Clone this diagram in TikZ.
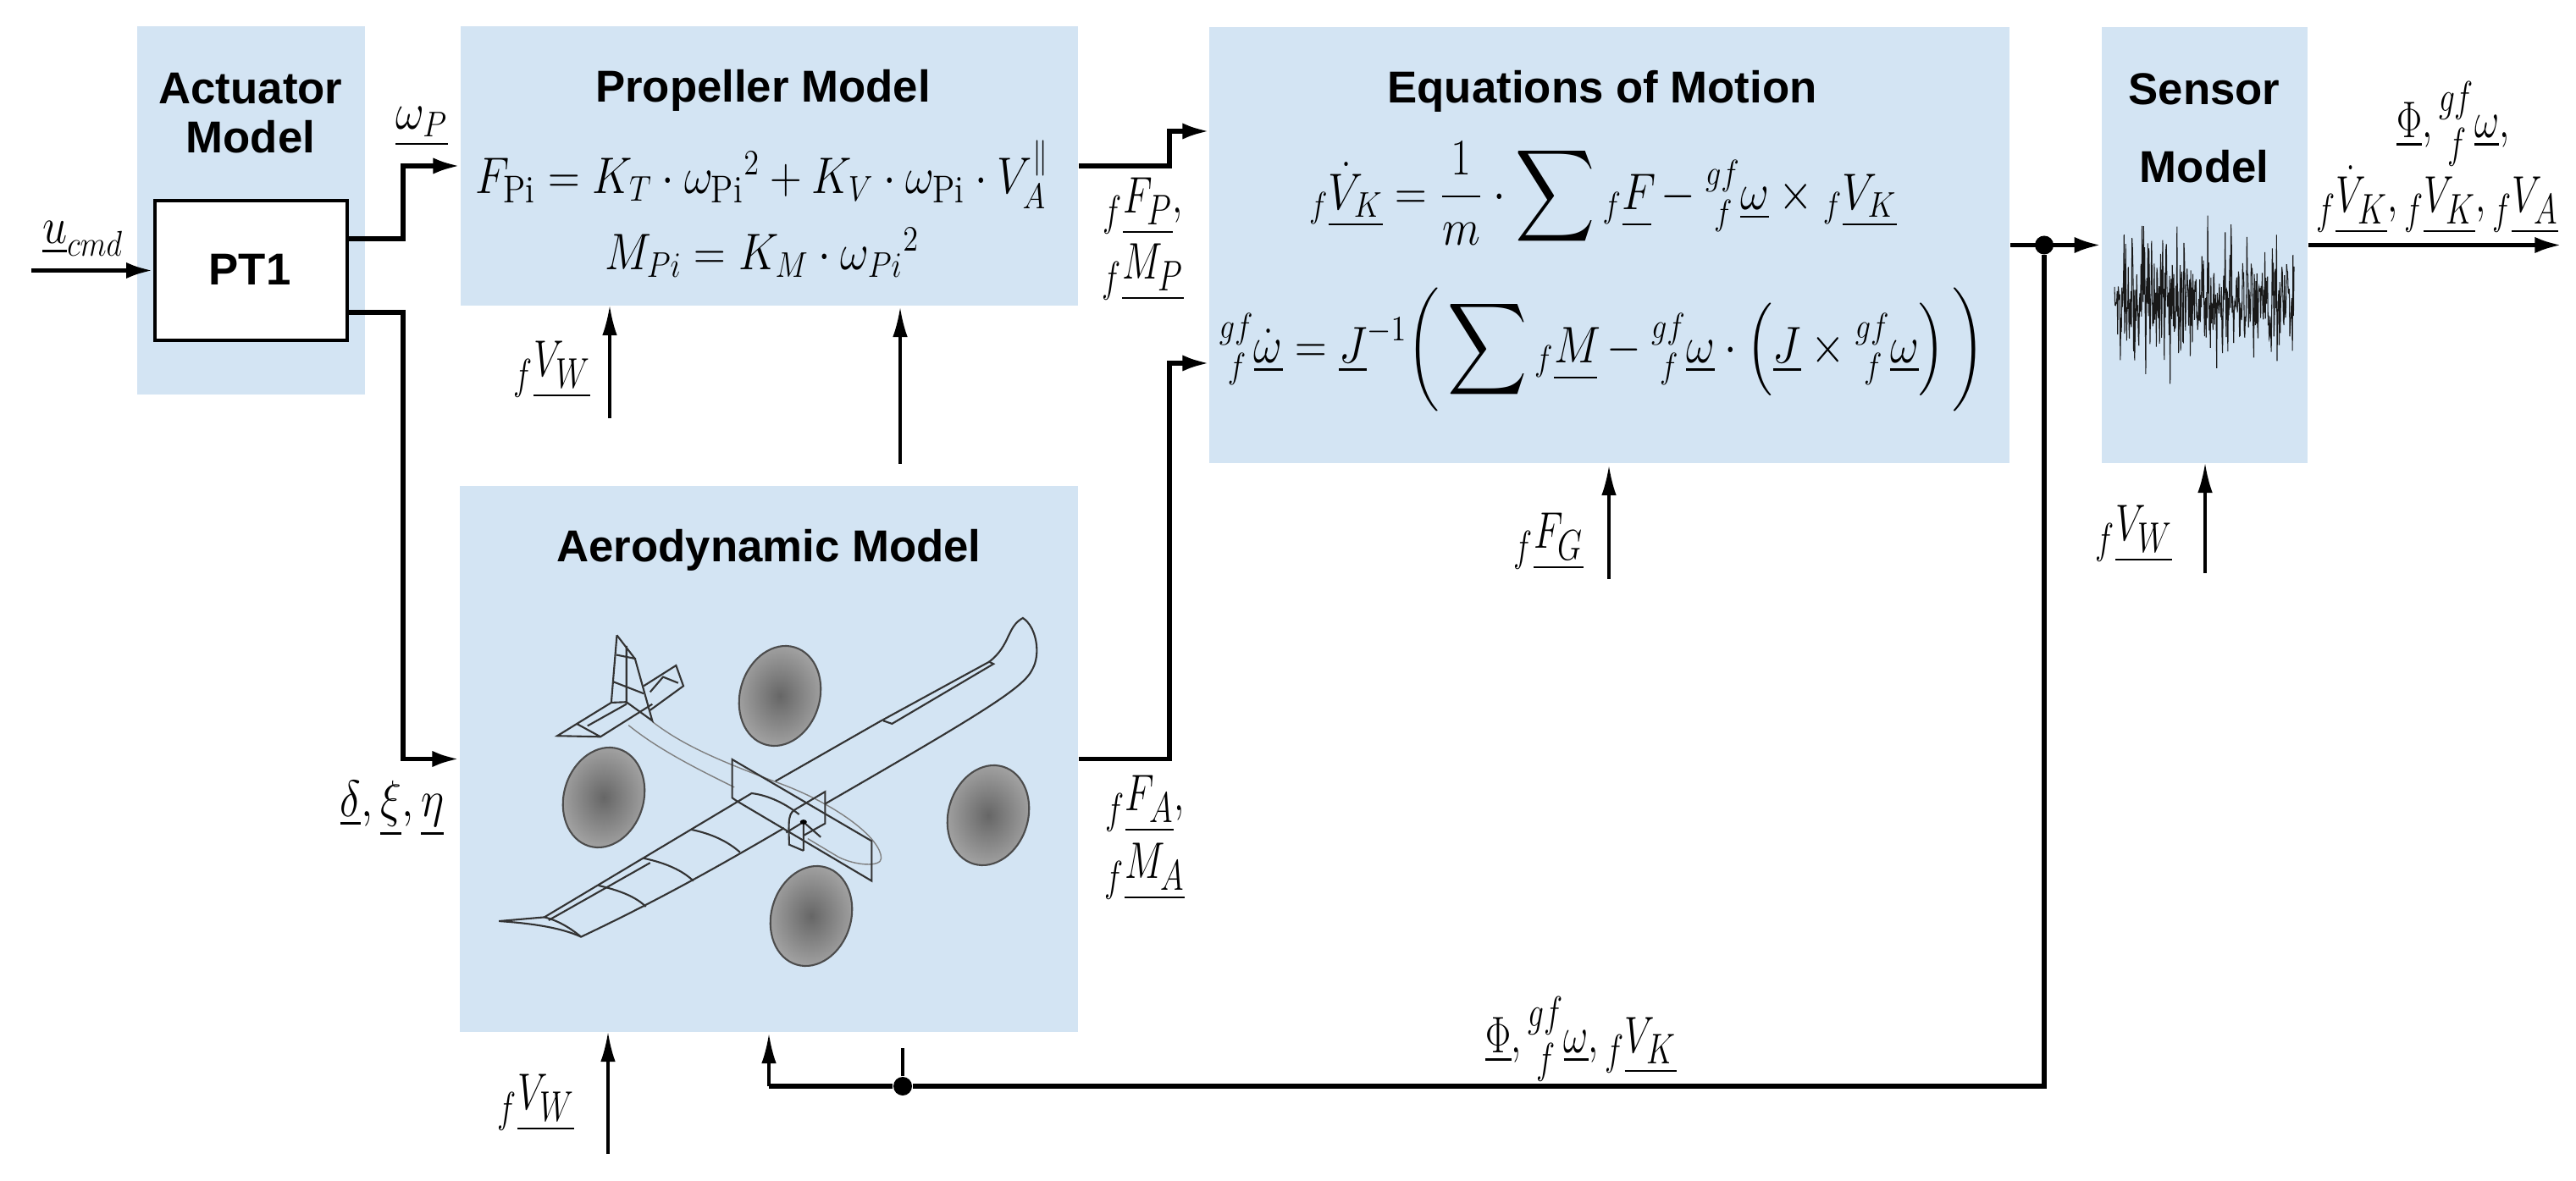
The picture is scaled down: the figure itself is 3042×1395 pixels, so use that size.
\documentclass[tikz,border=0pt]{standalone}
\usepackage{fontspec}
\setsansfont{Liberation Sans}
\usepackage{amsmath}
\usetikzlibrary{arrows.meta}
\DeclareMathSizes{16.5}{16.5}{13}{10}
\DeclareMathSizes{18}{18}{13.5}{10}
\definecolor{blockblue}{HTML}{D3E4F3}
\newcommand{\vecsym}[2]{{}_{f}\underline{#1_{#2}}}
\newcommand{\gfom}{{}^{gf}_{\;f}\underline{\omega}}
\newcommand{\bigsum}{\mathop{\vcenter{\hbox{\scalebox{1.25}{$\displaystyle\sum$}}}}}
\begin{document}
\begin{tikzpicture}[x=0.01cm,y=-0.01cm]
	\tikzstyle{block} = [rectangle, fill=blockblue, inner sep=0pt];
	\tikzstyle{pt} = [rectangle, draw, fill=white, line width=1.3pt, inner sep=0pt, minimum width=2.27cm, minimum height=1.65cm];
	\tikzstyle{title} = [font=\sffamily\bfseries\fontsize{15}{18}\selectfont, align=center, inner sep=0pt];
	\tikzstyle{eq} = [font=\fontsize{16.5}{20}\selectfont, inner sep=0pt, xscale=0.86, transform shape];
	\tikzstyle{lab} = [font=\fontsize{18}{22}\selectfont, inner sep=0pt, xscale=0.74, transform shape];
	\tikzstyle{sigthick} = [line width=1.5pt, -{Latex[length=9pt,width=5.5pt]}];
	\tikzstyle{sigthin} = [line width=0.9pt, -{Latex[length=10pt,width=5pt]}];
	\tikzstyle{frame} = [line width=0.6pt, black!80];
	\tikzstyle{fuse} = [line width=0.4pt, black!50];
	\tikzstyle{disc} = [draw=black!70, line width=0.6pt, inner color=black!60, outer color=black!35];
	
	\useasboundingbox (0,0) rectangle (3042,1395);
	
	\node[block, minimum width=2.69cm, minimum height=4.35cm] (Act) at (296.5,248.5) {};
	\node[block, minimum width=7.29cm, minimum height=3.30cm] (Prop) at (908.5,196) {};
	\node[block, minimum width=7.30cm, minimum height=6.45cm] (Aero) at (908,896.5) {};
	\node[block, minimum width=9.45cm, minimum height=5.15cm] (Eom) at (1900.5,289.5) {};
	\node[block, minimum width=2.43cm, minimum height=5.15cm] (Sens) at (2603.5,289.5) {};
	\node[pt] (Pt) at (296.5,319.5) {};
	
	\node[title] (ActT) at (296,105) {Actuator};
	\node[title] (ActM) at (296,162) {Model};
	\node[title] (PtT) at (295,318) {PT1};
	\node[title] (PropT) at (901,107) {Propeller Model};
	\node[title] (AeroT) at (908,650) {Aerodynamic Model};
	\node[title] (EomT) at (1892,108) {Equations of Motion};
	\node[title] (SensT) at (2603,105) {Sensor};
	\node[title] (SensM) at (2603,197) {Model};
	
	\node[eq] (EqFp) at (900,206) {$F_{\mathrm{Pi}} = K_T \cdot {\omega_{\mathrm{Pi}}}^{2} + K_V \cdot \omega_{\mathrm{Pi}} \cdot V_A^{\parallel}$};
	\node[eq] (EqMp) at (900,298) {$M_{Pi} = K_M \cdot {\omega_{Pi}}^{2}$};
	\node[eq] (EqV) at (1893,230) {$\displaystyle \vecsym{\dot V}{K} = \frac{1}{m} \cdot \bigsum \vecsym{F}{} - \gfom \times \vecsym{V}{K}$};
	\node[eq] (EqW) at (1892,413) {$\displaystyle {}^{gf}_{\;f}\underline{\dot\omega} = \underline{J}^{-1} \bigg( \bigsum \vecsym{M}{} - \gfom \cdot \left( \underline{J} \times \gfom \right) \bigg)$};
	
	\node[eq] (LabU) at (98,282) {$\underline{u}_{cmd}$};
	\node[eq] (LabW) at (498,150) {$\underline{\omega_P}$};
	\node[lab] (LabFP) at (1350,244) {$\vecsym{F}{P},$};
	\node[lab] (LabMP) at (1350,322) {$\vecsym{M}{P}$};
	\node[lab] (LabVa) at (652,437) {$\vecsym{V}{W}$};
	\node[eq] (LabD) at (463,955) {$\underline{\delta}, \underline{\xi}, \underline{\eta}$};
	\node[lab] (LabFA) at (1352,950) {$\vecsym{F}{A},$};
	\node[lab] (LabMA) at (1352,1030) {$\vecsym{M}{A}$};
	\node[lab] (LabVb) at (633,1303) {$\vecsym{V}{W}$};
	\node[lab] (LabFb) at (1867,1227) {$\underline{\Phi}, \gfom, \vecsym{V}{K}$};
	\node[lab] (LabG) at (1829,640) {$\vecsym{F}{G}$};
	\node[lab] (LabVc) at (2520,631) {$\vecsym{V}{W}$};
	\node[lab] (LabOa) at (2897,146) {$\underline{\Phi}, \gfom,$};
	\node[lab] (LabOb) at (2878,236) {$\vecsym{\dot V}{K}, \vecsym{V}{K}, \vecsym{V}{A}$};
	
	\coordinate (UIn) at (37,319.5);
	\coordinate (PtA) at (476,282);
	\coordinate (PtB) at (476,369);
	\coordinate (PropBend) at (1381,155);
	\coordinate (EomInA) at (1428,155);
	\coordinate (AeroBend) at (1381,429);
	\coordinate (EomInB) at (1428,429);
	\coordinate (VaIn) at (720,494);
	\coordinate (VaOut) at (720,361);
	\coordinate (AeroUp) at (1063,548);
	\coordinate (AeroTo) at (1063,363);
	\coordinate (VbIn) at (718,1363);
	\coordinate (VbOut) at (718,1219);
	\coordinate (FbOut) at (908,1221);
	\coordinate (FbCorner) at (908,1283);
	\coordinate (FbStub) at (1066,1238);
	\coordinate (GIn) at (1900,684);
	\coordinate (GOut) at (1900,550);
	\coordinate (VcIn) at (2604,677);
	\coordinate (VcOut) at (2604,547);
	\coordinate (SensOut) at (3025,289.5);
	\node[circle, fill, inner sep=0pt, minimum size=0.22cm] (DotA) at (2414,289.5) {};
	\node[circle, fill, inner sep=0pt, minimum size=0.22cm] (DotB) at (1066,1283) {};
	
	\draw[sigthick] (UIn) -- (Pt.west);
	\draw[sigthick] (Pt.east |- PtA) -- (PtA) |- (Prop.west);
	\draw[sigthick] (Pt.east |- PtB) -- (PtB) |- (Aero.west);
	\draw[sigthick] (Prop.east) -| (PropBend) -- (EomInA);
	\draw[sigthick] (Aero.east) -| (AeroBend) -- (EomInB);
	\draw[sigthin] (VaIn) -- (VaOut);
	\draw[sigthin] (AeroUp) -- (AeroTo);
	\draw[sigthin] (VbIn) -- (VbOut);
	\draw[sigthin] (GIn) -- (GOut);
	\draw[sigthin] (VcIn) -- (VcOut);
	\draw[sigthick] (Eom.east) -- (Sens.west);
	\draw[sigthick] (Sens.east) -- (SensOut);
	\draw[line width=1.5pt] (DotA) |- (DotB);
	\draw[line width=1.5pt] (DotB) -- (FbCorner);
	\draw[sigthin] (FbCorner) -- (FbOut);
	\draw[line width=0.9pt] (DotB) -- (FbStub);
	
	\pgfmathsetseed{7}
	\draw[line width=0.3pt, black!90] plot[samples=340, domain=2497:2709] (\x,{353+30*rand+95*rand*rand});
	
	\draw[disc] (921,822) ellipse [x radius=47, y radius=60, rotate=-17];
	\draw[disc] (713,942) ellipse [x radius=47, y radius=60, rotate=-17];
	\draw[disc] (1167,963) ellipse [x radius=47, y radius=60, rotate=-17];
	\draw[disc] (958,1082) ellipse [x radius=47, y radius=60, rotate=-17];
	
	\begin{scope}[shift={(500,680)}, xscale=0.51, yscale=0.357]
		\draw[fuse] (530,483) .. controls (600,560) and (680,610) .. (830,690) .. controls (960,760) and (1060,870) .. (1060,935) .. controls (1060,965) and (1000,960) .. (960,930) -- (890,870);
		\draw[fuse] (475,495) .. controls (540,570) and (620,630) .. (720,700);
		\draw[frame] (448,197) -- (435,420) -- (310,530) -- (410,533) -- (530,425);
		\draw[frame] (448,197) -- (490,275) -- (530,480) -- (470,418) -- (435,420);
		\draw[frame] (447,262) -- (492,275) (438,350) -- (510,390) (470,232) -- (470,425);
		\draw[frame] (355,490) -- (410,533) (380,497) -- (470,425);
		\draw[frame] (510,365) -- (585,297) -- (602,365) -- (525,445) (525,385) -- (555,335) -- (590,355);
		\draw[frame] (725,745) -- (715,735) -- (715,608) -- (1038,878) -- (1038,1010) -- (725,745);
		\draw[frame] (865,770) -- (930,715) -- (930,820) -- (880,860);
		\draw[frame] (815,680) -- (1060,480) -- (1310,285) -- (1320,292) -- (1085,490) -- (1065,480);
		\draw[frame] (1310,285) .. controls (1360,230) and (1350,170) .. (1388,140) .. controls (1420,170) and (1430,260) .. (1410,310) .. controls (1390,370) and (1300,450) .. (930,755);
		\draw[frame] (870,790) .. controls (830,745) and (790,725) .. (760,720) -- (280,1130) -- (175,1143) .. controls (250,1150) and (320,1165) .. (365,1195) .. controls (520,1090) and (650,990) .. (835,835);
		\draw[frame] (280,1130) .. controls (310,1140) and (340,1165) .. (365,1195);
		\draw[frame] (525,950) -- (290,1140);
		\draw[frame] (620,840) .. controls (670,855) and (705,880) .. (733,915);
		\draw[frame] (510,935) .. controls (560,950) and (600,975) .. (625,1010);
		\draw[frame] (405,1025) .. controls (450,1040) and (490,1060) .. (515,1095);
		\draw[frame] (865,770) .. controls (845,785) and (845,800) .. (847,890) -- (880,910);
		\draw[frame] (880,815) -- (840,850) (880,815) -- (880,910) (880,815) -- (920,865);
		\fill (880,815) circle (8);
	\end{scope}
\end{tikzpicture}
\end{document}
